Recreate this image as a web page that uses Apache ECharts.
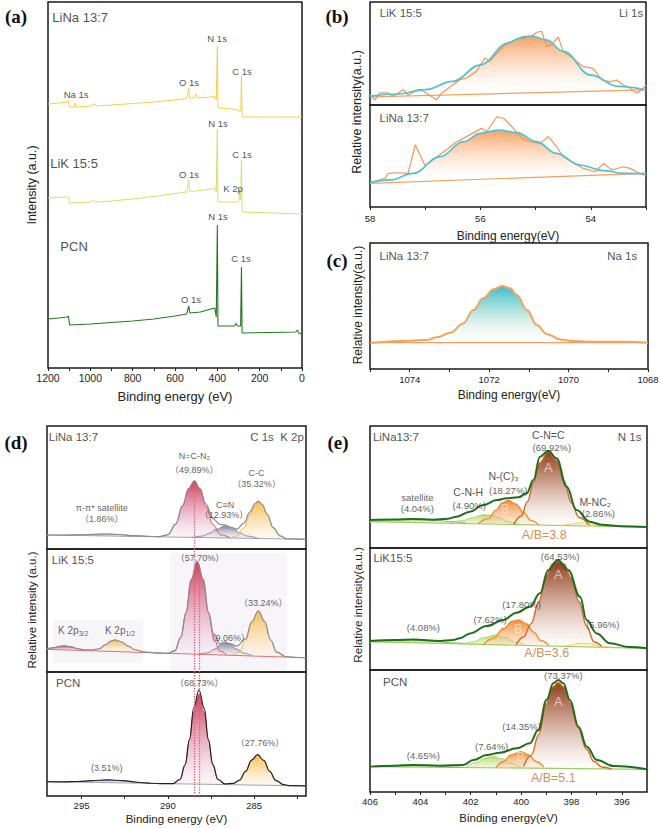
<!DOCTYPE html>
<html><head><meta charset="utf-8">
<script src="https://cdn.jsdelivr.net/npm/echarts@6.0.0/dist/echarts.min.js"></script>
<style>html,body{margin:0;padding:0;background:#fff;}#chart{width:661px;height:828px;}</style>
</head><body><div id="chart"></div>
<script>
// ================= DATA =================
// (a) XPS survey: [binding energy eV, intensity a.u.]
const surveyTickLabels = [0,200,400,600,800,1000,1200];
const surveyTicks = [0,100,200,300,400,500,600,700,800,900,1000,1100,1200];
const surveyLiNa = [[1200,264],[1150,265],[1110,266],[1104,267],[1098,261],[1076,261],[1072,265],[1069,261],[1000,262],[980,264],[975,262],[900,263],[800,264.5],[700,266],[600,268],[545,269.5],[535,280],[531,270],[510,270],[500,274],[495,270],[430,271],[412,272],[405,268],[400,322],[397,262],[394,260],[330,259],[300,258],[294,256],[289,259],[286,292],[283,253],[280,251],[0,251]];
const surveyLiK = [[1200,170],[1150,170.5],[1110,171],[1104,171],[1098,165],[1000,166],[985,168],[975,166],[900,167],[800,169],[700,171.5],[600,174.5],[545,176],[535,188],[530,176.5],[500,177],[430,179],[412,180],[405,176],[400,239],[397,167],[394,166],[310,166],[298,167],[295,178],[293,170],[290,168],[286,208],[283,157],[280,156],[0,154]];
const surveyPCN = [[1200,49],[1150,50],[1110,51],[1104,52],[1098,43],[1000,44],[900,45.5],[800,47],[700,49],[600,52],[545,54],[535,62],[530,55],[480,56],[430,59],[412,60],[405,51],[400,143],[397,42],[394,42],[320,42],[312,44.5],[305,42],[290,42],[286,101],[283,35],[280,35],[30,36],[22,38],[16,35],[0,34]];

// (b) Li 1s
const li1sTickLabels = [54,56,58];
const li1sTicks = [53,54,55,56,57,58];
const li1sLiK_raw = [[58,9.7],[57.91,4.9],[57.82,11.7],[57.67,11.7],[57.58,8.4],[57.40,14.9],[57.31,9.7],[57.12,14.9],[57.03,13.3],[56.79,4.9],[56.70,11.7],[56.37,24.6],[56.25,26.2],[56.07,32.7],[55.92,45.6],[55.83,42.4],[55.70,50.5],[55.52,60.2],[55.43,61.8],[55.22,66.7],[55.07,66.7],[54.98,70.6],[54.89,71.6],[54.80,56.8],[54.71,58.6],[54.59,66.0],[54.50,51.8],[54.32,45.3],[54.14,37.2],[53.96,35.6],[53.80,24.3],[53.65,22.7],[53.53,24.3],[53.41,19.4],[53.29,16.2],[53.17,11.3],[53.08,14.6],[53.0,19.4]];
const li1sLiK_fit = [[58,8.7],[57.5,10.7],[57,15],[56.5,23],[56,39],[55.5,60],[55.3,64.7],[55.07,67],[54.8,63],[54.5,52],[54,29],[53.5,18],[53,14.6]];
const li1sLiK_base = [[58,7.8],[53,14.6]];
const li1sLiNa_raw = [[58,23.8],[57.73,28.1],[57.67,33.0],[57.49,33.6],[57.31,33.0],[57.18,60.8],[57.0,40.5],[56.70,52.6],[56.43,64.0],[56.31,67.3],[55.98,77.1],[55.89,73.8],[55.70,88.5],[55.58,87.0],[55.43,78.7],[55.25,67.3],[55.10,64.0],[54.92,62.4],[54.77,68.9],[54.62,59.1],[54.50,49.3],[54.14,37.9],[53.92,34.6],[53.77,42.8],[53.62,36.3],[53.41,39.5],[53.29,37.9],[53.17,34.6],[53.05,31.4],[53.0,33.0]];
const li1sLiNa_fit = [[58,23.8],[57.64,26.5],[57.22,33],[56.73,49.3],[56.31,64],[56.0,72.2],[55.68,75.5],[55.34,72.9],[54.98,64],[54.62,52.6],[54.2,41.2],[53.77,35.6],[53.41,33],[53,32.7]];
const li1sLiNa_base = [[58,23.2],[53,33.0]];

// (c) Na 1s
const na1sTickLabels = [1068,1070,1072,1074];
const na1sTicks = [1068,1069,1070,1071,1072,1073,1074,1075];
const na1sLiNa = [[1074.96,20.9],[1073.99,22.5],[1073.57,23.0],[1073.32,25.1],[1072.98,28.8],[1072.65,36.2],[1072.40,46.8],[1072.15,56.1],[1071.89,63.2],[1071.67,65.9],[1071.47,64.0],[1071.30,58.7],[1071.05,46.8],[1070.80,34.9],[1070.55,27.8],[1070.21,23.5],[1069.88,22.2],[1069.54,21.7],[1068.62,21.7],[1068.0,20.9]];
const na1sBase = [[1075,20.9],[1068,20.9]];

// (d) C 1s / K 2p
const c1sTickLabels = [285,290,295];
const c1sTicks = [282.5,285,287.5,290,292.5,295];
const c1sRefLines = [288.5,288.2];
const cLiNa_base = [[297,11.4],[282,7.9]];
const cLiNa_sat = [[296,11.2],[295,11.5],[294.2,12.0],[293.5,12.2],[292.8,11.8],[292,10.9],[291.2,10.3]];
const cLiNa_NCN = [[290.5,9.9],[290.0,11.5],[289.55,20],[289.15,35],[288.8,49],[288.47,55.3],[288.15,49],[287.8,35],[287.4,20],[286.95,11.5],[286.4,9.1]];
const cLiNa_CN = [[288.6,9.3],[288.0,10.5],[287.6,12.8],[287.2,16],[286.7,18.7],[286.2,16],[285.8,12.8],[285.4,10.5],[284.8,8.7]];
const cLiNa_CC = [[286.4,8.9],[286.0,10.5],[285.6,17],[285.25,28],[284.95,36],[284.76,38.5],[284.55,36],[284.25,28],[283.9,17],[283.5,10.5],[283.1,8.2]];
const cLiNa_env = [[297,11.4],[296,11.3],[295,11.6],[294.2,12.0],[293.5,12.2],[292.8,11.8],[292,10.9],[291.2,10.3],[290.5,10.0],[290.0,11.6],[289.55,20.2],[289.15,35.2],[288.8,49.2],[288.47,55.5],[288.15,49.3],[287.8,36.8],[287.4,24.9],[287.0,20],[286.7,19.6],[286.4,17.8],[286.0,16.2],[285.6,21],[285.25,30],[284.95,37],[284.76,39],[284.55,36.4],[284.25,28.4],[283.9,17.3],[283.5,10.6],[283.1,8.3],[282,7.9]];
const cLiK_base = [[297,18.4],[282,11.6]];
const cLiK_K32 = [[297,18.6],[296.6,19.6],[296.2,20.8],[295.96,21.1],[295.6,20.3],[295.2,18.6],[294.8,17.7]];
const cLiK_K12 = [[294.4,17.2],[294.0,18.5],[293.6,22],[293.3,25],[293.06,26],[292.7,24.5],[292.3,21],[291.9,18],[291.4,16.2]];
const cLiK_NCN = [[290.0,14.8],[289.6,17],[289.25,28],[288.95,48],[288.65,75],[288.3,89.7],[287.95,75],[287.65,48],[287.35,28],[287.0,17],[286.6,14]];
const cLiK_CN = [[288.2,14.4],[287.7,15.6],[287.3,18.5],[286.9,22.5],[286.7,23.8],[286.4,22.5],[286.0,18.5],[285.6,15.3],[285.1,13.2]];
const cLiK_CC = [[286.3,13.5],[285.9,16],[285.5,25],[285.15,40],[284.76,49.6],[284.4,41],[284.05,26],[283.7,16],[283.2,12.5]];
const cLiK_env = [[297,18.8],[296.6,19.8],[296.2,21],[295.96,21.2],[295.6,20.5],[295.2,18.9],[294.8,18],[294.4,18],[294.0,18.9],[293.6,22.2],[293.3,25.1],[293.06,26.1],[292.7,24.6],[292.3,21.1],[291.9,18.1],[291.4,16.4],[290.6,15.4],[290.0,15.2],[289.6,17.4],[289.25,28.4],[288.95,48.4],[288.65,75.4],[288.3,90],[287.95,75.5],[287.65,49],[287.35,31],[287.0,23],[286.7,24.6],[286.4,23],[286.0,21],[285.5,27],[285.15,40.6],[284.76,49.8],[284.4,41.2],[284.05,26.2],[283.7,16.2],[283.2,12.6],[282.5,11.8],[282,11.6]];
const cLiK_regions = [[[296.65,42.3],[291.44,7.3]],[[289.88,96.7],[283.1,1.6]]];
const cPCN_base = [[297,11.6],[282,8.1]];
const cPCN_sat = [[296,11.3],[295.2,11.6],[294.4,12.3],[293.5,12.9],[292.6,12.3],[291.8,11],[291,10.2]];
const cPCN_NCN = [[289.7,9.9],[289.3,13.2],[289.0,25],[288.75,45],[288.5,68],[288.2,82],[287.9,68],[287.65,45],[287.4,25],[287.1,13],[286.7,9.3]];
const cPCN_CC = [[286.6,9.2],[286.2,10.1],[285.85,12.7],[285.5,19.6],[285.15,28.6],[284.8,33],[284.45,28.6],[284.1,19.6],[283.75,12.5],[283.3,9],[282.9,8.3]];
const cPCN_env = [[297,11.6],[296,11.4],[295.2,11.7],[294.4,12.4],[293.5,13],[292.6,12.4],[291.8,11.1],[291,10.3],[290.3,9.9],[289.7,10],[289.3,13.3],[289.0,25.2],[288.75,45.5],[288.5,71],[288.2,85.5],[287.9,71],[287.65,45.5],[287.4,25.5],[287.1,13.5],[286.7,9.7],[286.2,10.2],[285.85,12.8],[285.5,19.8],[285.15,28.9],[284.8,33.3],[284.45,28.8],[284.1,19.8],[283.75,12.6],[283.3,9.1],[282.9,8.3],[282,8.1]];

// (e) N 1s
const n1sTickLabels = [396,398,400,402,404,406];
const n1sTicks = [396,397,398,399,400,401,402,403,404,405,406];
const nLiNa_base = [[406,21.6],[395,17.0]];
const nLiNa_sat = [[406,22.8],[405,23.4],[404.3,23.8],[403.5,23.1],[402.8,21.6],[402.2,20.6]];
const nLiNa_CNH = [[402.8,20.8],[402.3,22.5],[401.9,25],[401.5,27.2],[401.2,27],[400.9,25],[400.5,21.5],[400.1,19.5]];
const nLiNa_B = [[401.7,20],[401.3,24],[401.0,31],[400.75,37],[400.5,39],[400.2,36],[399.9,29],[399.6,22.5],[399.3,19]];
const nLiNa_A = [[400.3,19.3],[400.0,26],[399.75,38],[399.5,54],[399.25,70],[398.92,79],[398.6,72],[398.3,55],[398.0,37],[397.7,25],[397.3,18.8]];
const nLiNa_M = [[398.4,18.4],[398.0,19.6],[397.7,20.6],[397.4,20.2],[397.0,18.8],[396.6,18]];
const nLiNa_env = [[406,23],[405,23.4],[404.3,23.8],[403.5,23.2],[402.9,24],[402.56,25.7],[402.03,29.8],[401.5,35.2],[400.97,39.3],[400.57,40.7],[400.11,41.5],[399.78,44.8],[399.51,55.7],[399.25,74.8],[398.92,79.8],[398.59,73.5],[398.19,50.2],[397.8,31.1],[397.27,21.6],[396.8,19],[396,17.8],[395,17.2]];
const nLiK_base = [[406,23.2],[395,17.8]];
const nLiK_sat = [[406,23.6],[405,24.4],[404.2,24.9],[403.5,24],[402.8,22.3],[402.3,21.8]];
const nLiK_CNH = [[402.3,21.5],[401.9,23],[401.5,26.5],[401.0,28.7],[400.6,26.5],[400.2,22.5],[399.8,20.2]];
const nLiK_B = [[401.5,21],[401.1,26],[400.7,34],[400.35,40],[400.1,41],[399.8,38],[399.5,31],[399.2,24],[398.9,20]];
const nLiK_A = [[400.2,20.4],[399.9,27],[399.6,38],[399.3,56],[399.0,77],[398.75,87],[398.55,89],[398.3,87],[398.0,75],[397.7,56],[397.4,36],[397.1,23],[396.8,19.5]];
const nLiK_M = [[398.3,19.4],[398.0,20.5],[397.7,21.8],[397.4,22],[397.1,20.8],[396.8,19.3],[396.4,18.5]];
const nLiK_env = [[406,23.8],[405,24.6],[404.28,25.1],[403.22,23.8],[402.7,24.5],[402.43,26],[402.03,30],[401.37,36],[400.71,41],[400.18,47],[399.65,51.9],[399.25,62.9],[398.92,82],[398.55,90.2],[398.13,82],[397.66,60],[397.4,41],[397.0,30],[396.47,21.9],[395.7,18.8],[395,17.8]];
const nPCN_base = [[406,20.8],[395,18.6]];
const nPCN_sat = [[406,20.9],[405.2,21.5],[404.3,22],[403.5,21.6],[402.8,20.5],[402.3,20.2]];
const nPCN_CNH = [[402.2,20.2],[401.8,24],[401.4,28],[401.1,29],[400.8,27.5],[400.4,23.5],[400.0,20.2]];
const nPCN_B = [[401.0,20],[400.7,25],[400.4,30.5],[400.0,33],[399.7,30.5],[399.4,25],[399.1,20.5]];
const nPCN_A = [[399.9,21],[399.6,30],[399.3,47],[399.0,72],[398.75,86],[398.52,89.5],[398.3,86],[398.05,73],[397.75,53],[397.4,35],[397.1,25],[396.8,20.5],[396.4,19]];
const nPCN_env = [[406,20.8],[405,21.6],[404.28,22.1],[403.22,21.6],[402.3,22.1],[401.9,26.2],[401.37,30.3],[400.84,32.2],[400.18,35.8],[399.65,39.9],[399.32,50.8],[398.99,75.4],[398.72,89.1],[398.52,91.8],[398.32,89.1],[398.06,75.4],[397.72,53.5],[397.39,37.1],[396.99,26.2],[396.33,21.3],[395,18.6]];

// Annotations: [x, y, text, kind]
const annA = [[1048,351,'LiNa 13:7','L'],[1077,205,'LiK 15:5','L'],[1077,122,'PCN','L'],[1067,274,'Na 1s','S'],[534,286,'O 1s','S'],[401,330,'N 1s','S'],[283,297,'C 1s','S'],[397,245,'N 1s','S'],[534,194,'O 1s','S'],[283,214,'C 1s','S'],[326,180,'K 2p','S'],[397,152,'N 1s','S'],[288,110,'C 1s','S'],[524,69,'O 1s','S']];
const annB1 = [[57.44,89,'LiK 15:5','M'],[53.27,89,'Li 1s','M']];
const annB2 = [[57.38,87,'LiNa 13:7','M']];
const annC = [[1074.14,90,'LiNa 13:7','M'],[1068.65,90,'Na 1s','M']];
const annD1 = [[295.47,91,'LiNa 13:7','M'],[283.68,91,'C 1s  K 2p','M'],[288.47,76,'N=C-N₂','s'],[288.47,64,'（49.89%）','s'],[284.86,62,'C-C','s'],[284.86,53,'（35.32%）','s'],[286.69,36,'C≡N','s'],[286.75,28,'（12.93%）','s'],[293.83,33,'π-π* satellite','s'],[293.83,24.4,'（1.86%）','s']];
const annD2 = [[295.5,91,'LiK 15:5','M'],[288.14,93,'（57.70%）','s'],[284.47,56,'（33.24%）','s'],[295.48,34,'K 2p{s|3/2}','sub'],[292.77,34,'K 2p{s|1/2}','sub'],[286.5,28,'（9.06%）','s']];
const annD3 = [[295.77,91.4,'PCN','M'],[288.18,91.4,'（68.73%）','s'],[284.67,43,'（27.76%）','s'],[293.54,22.3,'(3.51%)','s']];
const annE1 = [[404.97,90.7,'LiNa13:7','M'],[395.69,90.7,'N 1s','M'],[398.92,92.6,'C-N=C','m'],[398.78,82.5,'(69.92%)','p'],[398.92,66,'A','AL'],[400.7,59,'N-(C)₃','m'],[400.51,47.5,'(18.27%)','p'],[400.64,31.7,'B','BL'],[402.1,46,'C-N-H','m'],[402.06,35.2,'(4.90%)','p'],[404.12,41.5,'satellite','p'],[404.12,32.5,'(4.04%)','p'],[397.06,38,'M-NC₂','m'],[396.93,28.4,'(2.86%)','p'],[399.08,10.7,'A/B=3.8','R']];
const annE2 = [[405.09,91.5,'LiK15:5','M'],[398.45,92.9,'(64.53%)','p'],[398.52,78,'A','AL'],[399.98,54,'(17.80%)','p'],[401.23,41,'(7.62%)','p'],[396.76,37.7,'(5.96%)','p'],[403.88,35,'(4.08%)','p'],[400.11,33.4,'B','BL'],[398.98,13.7,'A/B=3.6','R']];
const annE3 = [[405.0,90.4,'PCN','M'],[398.32,95.9,'(73.37%)','p'],[398.52,74,'A','AL'],[399.98,53.5,'(14.35%)','p'],[401.17,37,'(7.64%)','p'],[403.88,30.3,'(4.65%)','p'],[400.02,28.9,'B','BL'],[398.72,11.2,'A/B=5.1','R']];

// ================= BUILD =================
const FONT = '"Liberation Sans", Arial, "Noto Sans CJK SC", sans-serif';
const chart = echarts.init(document.getElementById('chart'), null, {renderer:'svg', width:661, height:828});
const grids=[], xAxes=[], yAxes=[], series=[];
function grad(stops){ return new echarts.graphic.LinearGradient(0,0,0,1, stops.map(s=>({offset:s[0], color:s[1]}))); }
function addGrid(box, xr, yMax, axisOpt){
  const gi = grids.length;
  grids.push(Object.assign({show:true, borderColor:'#1a1a1a', borderWidth:1.5, backgroundColor:'transparent', containLabel:false, outerBoundsMode:'none'}, box));
  const x = {gridIndex:gi, type:'value', min:xr[0], max:xr[1], inverse:true, axisLine:{show:false}, splitLine:{show:false}, axisTick:{show:false}, axisLabel:{show:false}};
  if (axisOpt){
    x.axisTick = {show:true, inside:false, length:3, lineStyle:{color:'#222', width:1}, customValues:axisOpt.ticks};
    x.axisLabel = {show:true, margin:axisOpt.margin, fontSize:axisOpt.fs, color:'#222', fontFamily:FONT, customValues:axisOpt.labels, showMinLabel:true, showMaxLabel:true, formatter:function(v){ return String(v); }};
    x.name = axisOpt.name; x.nameLocation='middle'; x.nameGap=axisOpt.gap;
    x.nameTextStyle = {fontSize:axisOpt.nfs, color:'#222', fontFamily:FONT};
  }
  xAxes.push(x);
  yAxes.push({gridIndex:gi, type:'value', min:0, max:yMax, show:false});
  return gi;
}
function ln(gi, data, color, width, extra){
  return Object.assign({type:'line', xAxisIndex:gi, yAxisIndex:gi, data:data, symbol:'none', showSymbol:false, lineStyle:{color:color, width:width}, silent:true, animation:false}, extra||{});
}
function pk(gi, data, color, stops, origin, w){
  return ln(gi, data, color, w==null?1:w, {smooth:0.4, smoothMonotone:'x', areaStyle:{origin:origin, color:grad(stops), opacity:1}});
}
const STY = {
  L:{fontSize:13}, S:{fontSize:9.5}, M:{fontSize:11.5}, s:{fontSize:9, color:'#333'},
  sub:{fontSize:10, color:'#333', lineHeight:14, rich:{s:{fontSize:7, lineHeight:6, verticalAlign:'bottom', color:'#333'}}},
  m:{fontSize:10.5}, p:{fontSize:9.5, color:'#333'},
  AL:{fontSize:13, color:'#f3dccc'}, BL:{fontSize:12, color:'#fde5d2'}, R:{fontSize:12.5, color:'#c2711f'}
};
function labels(gi, items){
  return {type:'scatter', xAxisIndex:gi, yAxisIndex:gi, symbolSize:1, itemStyle:{color:'rgba(0,0,0,0)'}, silent:true, z:20, animation:false,
    data: items.map(it=>({value:[it[0],it[1]], label:Object.assign({show:true, position:'inside', formatter:it[2], align:'center', verticalAlign:'middle', fontFamily:FONT, color:'#222'}, STY[it[3]])}))};
}

// (a)
const ga = addGrid({left:48, top:2, width:254, height:366}, [0,1200], 366, {ticks:surveyTicks, labels:surveyTickLabels, margin:5, fs:10.5, name:'Binding energy (eV)', gap:22, nfs:13});
series.push(ln(ga, surveyLiNa, '#f7cf45', 1), ln(ga, surveyLiK, '#d5e065', 1), ln(ga, surveyPCN, '#217a21', 1.1), labels(ga, annA));

// (b)
const orangeStops = [[0,'rgba(246,150,80,0.9)'],[0.55,'rgba(252,212,180,0.55)'],[1,'rgba(255,255,255,0)']];
const gb1 = addGrid({left:370, top:2, width:276, height:103}, [53,58], 100, null);
series.push(pk(gb1, li1sLiK_fit, 'rgba(0,0,0,0)', orangeStops, 11, 0), ln(gb1, li1sLiK_base, '#f4a060', 1.2), ln(gb1, li1sLiK_raw, '#f39555', 1.2),
  ln(gb1, li1sLiK_fit, '#4cc3d2', 1.7, {smooth:0.4, smoothMonotone:'x'}), labels(gb1, annB1));
const gb2 = addGrid({left:370, top:105, width:276, height:102}, [53,58], 100, {ticks:li1sTicks, labels:li1sTickLabels, margin:7, fs:9.5, name:'Binding energy(eV)', gap:23, nfs:12});
series.push(pk(gb2, li1sLiNa_fit, 'rgba(0,0,0,0)', orangeStops, 28, 0), ln(gb2, li1sLiNa_base, '#f4a060', 1.2), ln(gb2, li1sLiNa_raw, '#f39555', 1.2),
  ln(gb2, li1sLiNa_fit, '#4cc3d2', 1.7, {smooth:0.4, smoothMonotone:'x'}), labels(gb2, annB2));

// (c)
const gc = addGrid({left:370, top:243, width:278, height:126}, [1068,1075], 100, {ticks:na1sTicks, labels:na1sTickLabels, margin:6, fs:9.5, name:'Binding energy(eV)', gap:20, nfs:12});
series.push(ln(gc, na1sBase, '#f4a060', 1.2), pk(gc, na1sLiNa, '#f5a35c', [[0,'rgba(50,185,195,0.95)'],[0.55,'rgba(185,228,222,0.75)'],[1,'rgba(255,255,255,0.3)']], 20.9, 2), labels(gc, annC));

// (d)
const red = [[0,'rgba(205,50,80,0.95)'],[0.5,'rgba(226,150,176,0.75)'],[1,'rgba(242,228,242,0.35)']];
const gray = [[0,'rgba(118,118,150,0.9)'],[1,'rgba(226,226,236,0.35)']];
const yel = [[0,'rgba(246,185,70,0.95)'],[1,'rgba(253,240,215,0.35)']];
const satg = [[0,'rgba(150,150,175,0.7)'],[1,'rgba(230,230,240,0.3)']];
function refLines(vals, ranges){ return {symbol:'none', silent:true, label:{show:false}, lineStyle:{type:'dotted', color:'#e06070', width:1.3}, data: vals.map((v,i)=>[{coord:[v,ranges[i][0]]},{coord:[v,ranges[i][1]]}])}; }
const gd1 = addGrid({left:47, top:426, width:259, height:123}, [282,297], 100, null);
series.push(ln(gd1, cLiNa_base, '#a0a0b8', 1),
  pk(gd1, cLiNa_sat, '#a0a0b8', satg, 10.6, 0.8), pk(gd1, cLiNa_CN, '#8a8aa8', gray, 9, 1), pk(gd1, cLiNa_NCN, '#e0566a', red, 9.4, 1), pk(gd1, cLiNa_CC, '#f0b548', yel, 8.6, 1),
  ln(gd1, cLiNa_env, '#8c8c8c', 1.2, {smooth:0.4, smoothMonotone:'x', markLine:refLines([c1sRefLines[0]],[[0,55]])}), labels(gd1, annD1));
const gd2 = addGrid({left:47, top:549, width:259, height:123}, [282,297], 100, null);
series.push(ln(gd2, [[282,-10]], '#fff', 0, {markArea:{silent:true, itemStyle:{color:'#f8f5fa'}, data: cLiK_regions.map(r=>[{coord:r[0]},{coord:r[1]}])}}),
  ln(gd2, cLiK_base, '#e07070', 1),
  pk(gd2, cLiK_K32, '#d85a6e', red, 18, 0.8), pk(gd2, cLiK_K12, '#f0b548', yel, 16.6, 0.8),
  pk(gd2, cLiK_CN, '#8a8aa8', gray, 13.7, 1), pk(gd2, cLiK_NCN, '#e0566a', red, 14.5, 1), pk(gd2, cLiK_CC, '#f0b548', yel, 12.8, 1),
  ln(gd2, cLiK_env, '#8c8c8c', 1.2, {smooth:0.4, smoothMonotone:'x', markLine:refLines(c1sRefLines,[[0,100],[0,80]])}), labels(gd2, annD2));
const gd3 = addGrid({left:47, top:672, width:259, height:124}, [282,297], 100, {ticks:c1sTicks, labels:c1sTickLabels, margin:5, fs:9.5, name:'Binding energy (eV)', gap:17, nfs:11.5});
series.push(ln(gd3, cPCN_base, '#a0a0b8', 1),
  pk(gd3, cPCN_sat, '#a0a0b8', satg, 10.8, 0.8), pk(gd3, cPCN_NCN, '#e0566a', red, 9.5, 1), pk(gd3, cPCN_CC, '#f0b548', yel, 8.7, 1),
  ln(gd3, cPCN_env, '#222', 1.2, {smooth:0.4, smoothMonotone:'x', markLine:refLines(c1sRefLines,[[0,100],[0,100]])}), labels(gd3, annD3));

// (e)
const brown = [[0,'rgba(140,58,25,0.98)'],[0.45,'rgba(200,150,130,0.85)'],[1,'rgba(255,255,255,0.5)']];
const oran = [[0,'rgba(240,135,45,0.95)'],[1,'rgba(252,222,195,0.55)']];
const lgreen = [[0,'rgba(182,217,106,0.95)'],[1,'rgba(222,240,185,0.5)']];
const sgreen = [[0,'rgba(130,190,80,0.8)'],[1,'rgba(215,238,185,0.4)']];
const myel = [[0,'rgba(245,205,85,0.95)'],[1,'rgba(252,240,205,0.5)']];
function nPanel(gi, d){
  series.push(ln(gi, d.base, '#9ccc65', 1.2),
    pk(gi, d.sat, '#7cb342', sgreen, d.o[0], 0.8), pk(gi, d.cnh, '#a5cf55', lgreen, d.o[1], 0.8),
    pk(gi, d.B, '#f08a30', oran, d.o[2], 1.3));
  if (d.M) series.push(pk(gi, d.M, '#f2c14e', myel, d.o[4], 0.8));
  series.push(pk(gi, d.A, '#d2691e', brown, d.o[3], 1.4),
    ln(gi, d.env, '#1f6e1f', 2, {smooth:0.4, smoothMonotone:'x'}), labels(gi, d.ann));
}
const ge1 = addGrid({left:370, top:426, width:277, height:122}, [395,406], 100, null);
nPanel(ge1, {base:nLiNa_base, sat:nLiNa_sat, cnh:nLiNa_CNH, B:nLiNa_B, A:nLiNa_A, M:nLiNa_M, env:nLiNa_env, ann:annE1, o:[20.7,19.9,19.5,18.7,18.3]});
const ge2 = addGrid({left:370, top:548, width:277, height:122}, [395,406], 100, null);
nPanel(ge2, {base:nLiK_base, sat:nLiK_sat, cnh:nLiK_CNH, B:nLiK_B, A:nLiK_A, M:nLiK_M, env:nLiK_env, ann:annE2, o:[22.2,20.9,20.4,19.6,19.0]});
const ge3 = addGrid({left:370, top:670, width:277, height:122}, [395,406], 100, {ticks:n1sTicks, labels:n1sTickLabels, margin:5, fs:9.5, name:'Binding energy(eV)', gap:20, nfs:11.5});
nPanel(ge3, {base:nPCN_base, sat:nPCN_sat, cnh:nPCN_CNH, B:nPCN_B, A:nPCN_A, M:null, env:nPCN_env, ann:annE3, o:[20.5,19.8,19.6,19.3,19.0]});

function vtext(x, y, t, fs){ return {type:'text', x:x, y:y, rotation:Math.PI/2, style:{text:t, fontSize:fs, fontFamily:FONT, fill:'#222', align:'center', verticalAlign:'middle'}}; }
function letter(x, y, t){ return {type:'text', x:x, y:y, style:{text:t, fontSize:19, fontWeight:'bold', fontFamily:'"Liberation Serif", "Times New Roman", serif', fill:'#111', align:'center', verticalAlign:'middle'}}; }

chart.setOption({
  animation:false,
  backgroundColor:'#fff',
  grid:grids, xAxis:xAxes, yAxis:yAxes, series:series,
  graphic:[
    vtext(32,185,'Intensity (a.u.)',12.5), vtext(357,112,'Relative intensity(a.u.)',12.5), vtext(358,305,'Relative intensity(a.u.)',12),
    vtext(32,610,'Relative intensity (a.u.)',11.5), vtext(357,605,'Relative intensity(a.u.)',11.7),
    letter(16,16,'(a)'), letter(337,16,'(b)'), letter(337,260,'(c)'), letter(16,442,'(d)'), letter(338,442,'(e)')
  ]
});
</script></body></html>
